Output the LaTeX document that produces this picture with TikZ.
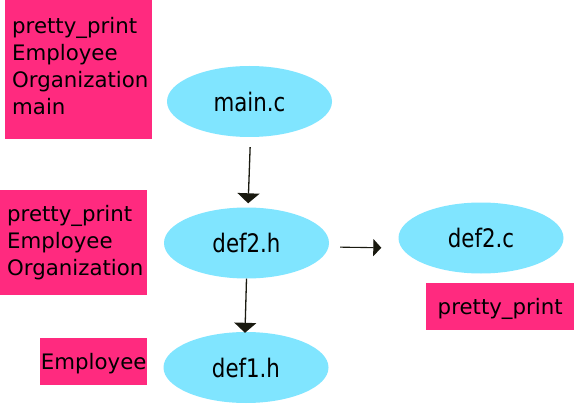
\documentclass[tikz,border=0pt]{standalone}
\usepackage{fontspec}
\setmainfont{DejaVu Sans}
\newfontfamily\condfont[FakeStretch=0.93]{DejaVu Sans Condensed}
\usetikzlibrary{shapes.geometric,arrows.meta}
\definecolor{pinkc}{HTML}{FF2A7F}
\definecolor{bluec}{HTML}{80E5FF}
\definecolor{arrc}{HTML}{1A1A10}
\tikzset{
  pinkbox/.style={rectangle, fill=pinkc, draw=none, inner xsep=7pt, inner ysep=0pt,
    align=left, font=\fontsize{21.3}{27}\selectfont, anchor=north west},
  fileell/.style={ellipse, fill=bluec, draw=none, inner sep=0pt,
    minimum width=165pt, minimum height=71pt, font=\condfont\fontsize{25.5}{27}\selectfont},
  deparrow/.style={draw=arrc, line width=1.3pt, -{Triangle[width=22pt,length=10pt]}},
  deparrowh/.style={draw=arrc, line width=1.1pt, -{Triangle[width=17pt,length=8pt]}}
}
\begin{document}
\begin{tikzpicture}[x=1pt,y=-1pt]
\useasboundingbox (0,0) rectangle (574,404);
\fill[white] (0,0) rectangle (574,404);
% pink boxes
\node[pinkbox, text width=133pt, minimum height=139pt, text height=8pt] (p1) at (5,0)
  {pretty\_print\\Employee\\Organization\\main};
\node[pinkbox, text width=133pt, minimum height=105pt] (p2) at (0,190)
  {pretty\_print\\Employee\\Organization};
\node[pinkbox, minimum width=107pt, minimum height=47pt, inner xsep=0pt, align=center,
  text height=21pt, text depth=5pt] (p3) at (40,338)
  {Employee};
\node[pinkbox, minimum width=148pt, minimum height=47pt, inner xsep=0pt, align=center,
  text height=21pt, text depth=5pt] (p4) at (426,283)
  {pretty\_print};
% ellipses
\node[fileell] (mainc) at (249.5,101.5) {main.c};
\node[fileell] (def2h) at (246.5,243) {def2.h};
\node[fileell] (def2c) at (481,238) {def2.c};
\node[fileell] (def1h) at (246,367.5) {def1.h};
% arrows
\draw[deparrow, shorten <=10pt, shorten >=4pt] ([xshift=1pt]mainc.south) -- ([xshift=1.5pt]def2h.north);
\draw[deparrow, shorten >=-1pt] (def2h.south) -- ([xshift=-1pt]def1h.north);
\draw[deparrowh, shorten <=11pt, shorten >=17pt] ([yshift=-4pt]def2h.east) -- ([yshift=-10pt]def2c.west);
\end{tikzpicture}
\end{document}
